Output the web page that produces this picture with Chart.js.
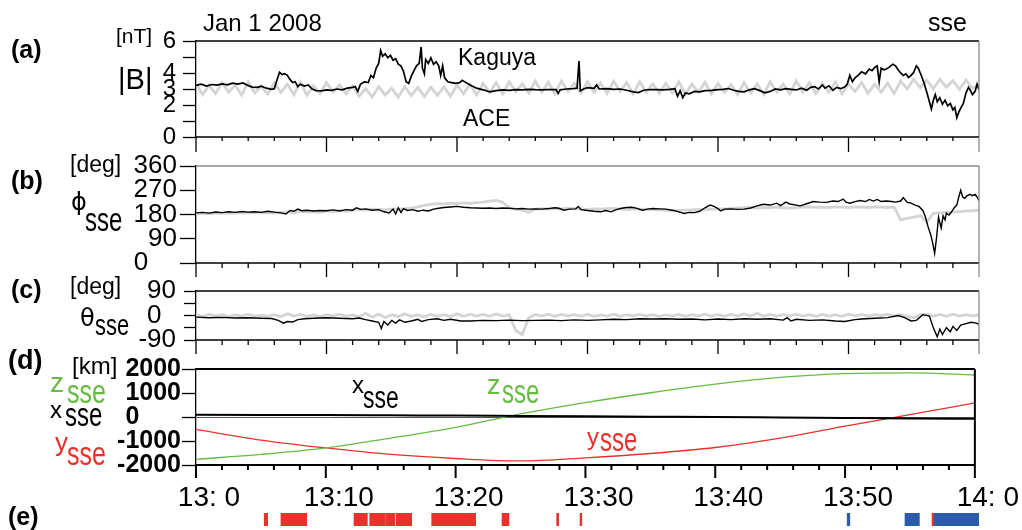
<!DOCTYPE html>
<html>
<head>
<meta charset="utf-8">
<title>Kaguya / ACE magnetic field, Jan 1 2008</title>
<script src="https://cdn.jsdelivr.net/npm/chart.js@4.4.1/dist/chart.umd.min.js"></script>
<style>
  html, body { margin: 0; padding: 0; background: #fff; }
  #wrap { position: relative; width: 1022px; height: 530px; overflow: hidden; font-family: "Liberation Sans", Arial, sans-serif; }
  #wrap canvas { position: absolute; left: 0; top: 0; }
  .lbl { position: absolute; white-space: nowrap; line-height: 1; z-index: 5; }
</style>
</head>
<body>
<div id="wrap">
  <canvas id="panelA" width="1022" height="530"></canvas>
  <canvas id="panelB" width="1022" height="530"></canvas>
  <canvas id="panelC" width="1022" height="530"></canvas>
  <canvas id="panelD" width="1022" height="530"></canvas>
  <canvas id="panelE" width="1022" height="530"></canvas>
</div>
<script>
// time is minutes after 13:00 UT
const aceStep = 0.5;

// (a) |B| [nT]
const kaguyaB = [
  [0,3.22],[0.4,3.30],[0.8,3.18],[1.2,3.28],[1.6,3.24],[2.0,3.32],[2.4,3.26],[2.8,3.36],[3.2,3.30],[3.6,3.38],
  [3.9,3.25],[4.3,3.12],[4.7,3.10],[5.0,3.18],[5.4,3.05],[5.8,2.98],[6.0,3.02],[6.2,3.55],[6.4,4.05],[6.6,3.90],
  [6.8,3.95],[7.0,3.85],[7.2,3.60],[7.4,3.40],[7.6,3.45],[7.8,3.15],[8.0,3.30],[8.3,3.18],[8.6,3.25],[8.9,3.00],
  [9.2,2.90],[9.6,2.88],[10.0,2.95],[10.4,2.92],[10.8,3.00],[11.2,2.95],[11.6,3.05],[12.0,3.10],[12.2,3.15],[12.4,2.85],
  [12.6,3.30],[12.9,3.45],[13.2,3.40],[13.4,3.85],[13.6,3.70],[13.8,4.30],[14.0,4.60],[14.15,5.40],[14.3,5.05],[14.5,5.20],
  [14.7,4.95],[14.9,5.10],[15.1,4.80],[15.3,4.90],[15.5,4.55],[15.7,4.45],[15.9,4.10],[16.1,3.45],[16.3,3.35],[16.5,3.80],
  [16.7,4.15],[16.9,4.45],[17.1,4.60],[17.25,5.62],[17.35,4.30],[17.5,3.95],[17.6,4.85],[17.8,4.60],[18.0,4.95],[18.2,4.55],
  [18.4,4.70],[18.6,4.45],[18.75,3.85],[18.9,4.45],[19.05,3.70],[19.3,3.45],[19.6,3.40],[19.9,3.35],[20.2,3.40],[20.4,3.55],
  [20.7,3.40],[21.0,3.25],[21.5,3.05],[22.0,2.95],[22.5,2.82],[23.0,2.90],[23.5,2.94],[24.0,2.92],[24.5,2.96],[25.0,2.95],
  [25.5,2.98],[26.0,2.96],[26.5,2.95],[27.0,2.97],[27.6,2.96],[27.75,2.72],[27.9,2.95],[28.4,3.00],[28.9,3.02],[29.2,3.05],
  [29.35,4.75],[29.45,2.88],[29.7,3.00],[30.0,3.08],[30.5,3.04],[30.7,3.25],[30.9,3.00],[31.5,3.02],[32.0,2.98],[32.5,3.00],
  [33.0,2.92],[33.5,2.82],[33.9,2.78],[34.3,2.92],[34.8,2.97],[35.3,2.96],[35.8,2.94],[36.3,2.98],[36.7,3.02],[36.9,2.55],
  [37.1,2.90],[37.3,2.45],[37.5,2.75],[37.8,2.70],[38.2,2.85],[38.6,2.82],[39.0,2.90],[39.5,2.92],[40.0,2.96],[40.4,2.98],
  [40.8,3.03],[41.2,2.92],[41.6,2.85],[42.0,2.82],[42.4,2.95],[42.8,3.02],[43.2,2.90],[43.6,2.76],[44.0,2.85],[44.4,3.00],
  [44.8,2.95],[45.2,3.02],[45.6,2.98],[46.0,2.94],[46.4,3.05],[46.8,2.92],[47.1,3.10],[47.4,3.15],[47.7,3.00],[48.0,3.25],
  [48.2,3.05],[48.5,3.20],[48.8,2.92],[49.1,3.10],[49.4,3.02],[49.7,3.12],[49.9,3.30],[50.1,3.85],[50.3,3.45],[50.5,3.70],
  [50.8,3.90],[51.0,4.08],[51.3,3.95],[51.6,4.25],[51.8,4.15],[52.0,4.35],[52.2,4.45],[52.35,3.45],[52.5,4.30],[52.7,4.20],
  [52.9,4.25],[53.1,4.35],[53.4,4.55],[53.6,4.45],[53.8,4.20],[54.0,4.00],[54.2,3.85],[54.4,3.95],[54.6,3.72],[54.8,3.85],
  [55.0,4.05],[55.2,4.45],[55.35,4.30],[55.6,3.80],[55.8,3.35],[56.0,2.80],[56.2,2.20],[56.35,1.75],[56.5,2.30],[56.65,2.65],
  [56.8,2.20],[57.0,2.45],[57.2,2.05],[57.4,2.30],[57.6,1.95],[57.8,2.10],[58.0,1.70],[58.15,1.85],[58.3,1.20],[58.45,1.55],
  [58.6,1.80],[58.8,2.10],[59.0,2.75],[59.2,3.10],[59.35,2.90],[59.5,2.65],[59.7,2.85],[59.85,3.30],[60.0,2.95]
];
const aceB = [
  3.35, 2.65, 3.22, 2.72, 3.40, 2.80, 3.25, 2.62, 3.45, 2.75, 3.18, 2.68,
  3.40, 2.78, 3.30, 2.65, 3.45, 2.60, 3.20, 2.72, 3.40, 2.82, 3.25, 2.70,
  3.20, 2.55, 3.02, 2.50, 3.15, 2.62, 3.05, 2.48, 3.15, 2.58, 3.10, 2.52,
  3.10, 2.60, 3.15, 2.55, 3.25, 2.70, 3.30, 2.62, 3.35, 2.78, 3.40, 2.70,
  3.45, 2.82, 3.32, 2.74, 3.50, 2.80, 3.42, 2.70, 3.50, 2.85, 3.36, 2.76,
  3.45, 2.80, 3.38, 2.72, 3.50, 2.84, 3.40, 2.70, 3.45, 2.80, 3.32, 2.74,
  3.35, 2.76, 3.45, 2.68, 3.30, 2.80, 3.42, 2.70, 3.35, 2.78, 3.28, 2.66,
  3.40, 2.74, 3.32, 2.66, 3.45, 2.80, 3.30, 2.70, 3.50, 2.82, 3.40, 2.72,
  3.35, 2.80, 3.45, 2.70, 3.30, 2.84, 3.40, 2.74, 3.30, 2.80, 3.38, 2.72,
  3.50, 3.00, 3.62, 3.08, 3.55, 3.02, 3.60, 3.12, 3.52, 2.98, 3.56, 3.06,
  3.25
];

// (b) phi_sse [deg]
const kaguyaPhi = [
  [0,186],[0.5,188],[1,185],[1.5,189],[2,187],[2.5,190],[3,188],[3.5,191],[4,189],[4.5,190],
  [5,188],[5.5,192],[6,189],[6.5,186],[6.9,182],[7.2,195],[7.5,192],[7.8,200],[8.1,194],[8.5,196],
  [9,193],[9.5,195],[10,194],[10.5,197],[11,193],[11.5,198],[12,196],[12.3,205],[12.6,199],[13,201],
  [13.5,196],[14,198],[14.4,190],[14.8,186],[15.1,200],[15.3,182],[15.5,205],[15.7,188],[15.9,202],[16.2,195],
  [16.6,198],[17,192],[17.4,196],[17.8,193],[18.2,200],[18.6,203],[19,206],[19.5,208],[20,210],[20.5,207],
  [21,205],[21.5,204],[22,203],[22.5,204],[23,202],[23.5,204],[24,203],[24.5,201],[25,202],[25.5,200],
  [26,201],[26.5,200],[27,202],[27.5,205],[27.8,203],[28.2,196],[28.6,200],[29.1,201],[29.3,210],[29.5,198],
  [30,195],[30.5,192],[31,190],[31.4,195],[31.8,190],[32.2,198],[32.6,203],[33,206],[33.4,207],[33.8,203],
  [34.2,196],[34.6,200],[35,202],[35.5,201],[36,200],[36.5,196],[37,190],[37.4,184],[37.8,188],[38.2,187],
  [38.6,192],[39,205],[39.4,215],[39.7,210],[40,202],[40.2,193],[40.5,200],[41,201],[41.5,199],[42,200],
  [42.5,204],[43,212],[43.5,218],[44,215],[44.5,222],[44.8,213],[45.2,226],[45.5,219],[46,215],[46.3,212],
  [46.8,220],[47.3,228],[47.8,226],[48.3,225],[48.8,230],[49.2,228],[49.6,237],[49.8,226],[50.1,222],[50.5,228],
  [50.9,232],[51.3,228],[51.6,236],[51.9,230],[52.2,236],[52.5,228],[52.9,230],[53.3,228],[53.6,226],[54,230],
  [54.2,243],[54.5,225],[54.8,222],[55.1,215],[55.4,210],[55.7,195],[55.9,170],[56.1,134],[56.3,105],[56.45,75],
  [56.6,36],[56.75,95],[56.9,170],[57.0,150],[57.1,130],[57.25,175],[57.4,160],[57.5,185],[57.7,178],[57.9,190],
  [58.1,205],[58.3,215],[58.45,245],[58.6,270],[58.75,245],[58.9,240],[59.1,250],[59.3,255],[59.5,250],[59.7,255],
  [59.85,245],[60,232]
];
const acePhi = [
  182, 184, 183, 185, 184, 186, 185, 187, 186, 188, 187, 186,
  185, 188, 190, 186, 192, 189, 191, 188, 193, 190, 194, 192,
  195, 198, 196, 200, 199, 197, 201, 199, 202, 204, 208, 214,
  218, 220, 219, 222, 220, 223, 221, 224, 226, 230, 232, 225,
  205, 200, 196, 188, 200, 202, 200, 203, 201, 204, 202, 200,
  199, 201, 200, 202, 203, 200, 198, 201, 199, 200, 198, 197,
  196, 194, 195, 196, 197, 199, 198, 200, 201, 200, 203, 204,
  205, 206, 204, 205, 206, 207, 205, 204, 206, 207, 208, 207,
  207, 206, 208, 207, 206, 208, 207, 206, 208, 207, 206, 207,
  160, 166, 170, 176, 152, 184, 186, 188, 189, 191, 193, 194,
  196
];

// (c) theta_sse [deg]
const kaguyaTheta = [
  [0,-6],[1,-8],[2,-7],[3,-9],[4,-8],[5,-10],[5.8,-11],[6.3,-18],[6.7,-28],[7.0,-22],
  [7.4,-24],[7.8,-15],[8.3,-12],[9,-10],[10,-8],[11,-10],[12,-12],[12.5,-9],[13,-15],[13.5,-20],
  [14,-25],[14.2,-48],[14.4,-22],[14.7,-35],[15,-18],[15.3,-28],[15.6,-16],[16,-25],[16.5,-20],[17,-14],
  [17.3,-22],[17.8,-15],[18.5,-12],[19,-18],[19.5,-14],[20.3,-20],[21,-20],[22,-18],[23,-19],[24,-17],
  [25,-19],[26,-18],[27,-17],[28,-19],[29,-16],[30,-18],[31,-16],[32,-14],[33,-15],[34,-12],
  [35,-13],[36,-12],[37,-14],[38,-13],[39,-16],[40,-13],[41,-15],[42,-12],[43,-14],[44,-12],
  [45,-17],[45.3,-8],[45.6,-20],[46,-14],[47,-18],[48,-16],[49,-20],[49.7,-22],[50.5,-15],[51,-13],
  [52,-10],[53,-8],[53.8,0],[54.3,-8],[54.8,-20],[55.2,-18],[55.7,3],[56.2,-2],[56.5,-45],[56.8,-78],
  [57,-50],[57.2,-70],[57.5,-45],[57.8,-60],[58,-40],[58.3,-55],[58.6,-35],[59,-30],[59.4,-25],[59.8,-28],
  [60,-33]
];
const aceTheta = [
  2, -3, 4, -1, 3, -4, 2, -2, 5, -3, 1, -2,
  3, -4, 6, -2, 4, -3, 2, -5, 3, -1, 4, -2,
  2, -5, 8, -6, 5, -8, 3, -4, 6, -3, 2, -5,
  4, -2, 3, -4, 6, -3, 5, -2, 4, -3, 6, -2,
  3, -55, -70, -8, 4, -2, 5, -3, 4, -1, 3, -2,
  4, -3, 2, -2, 5, -3, 3, -1, 4, -2, 3, -3,
  2, -2, 4, -3, 3, -1, 5, -2, 3, -3, 4, -2,
  6, -2, 8, -3, 4, -2, 3, -1, 5, -2, 3, -3,
  4, -2, 3, -3, 5, -1, 4, -2, 3, 0, 5, -2,
  4, -3, -8, 3, 5, -2, 4, -3, 5, -2, 3, -1,
  2
];

// (d) Kaguya position [km]
const posTime = [0, 5, 10, 15, 20, 25, 30, 35, 40, 45, 50, 55, 60];
const xSse = [90, 85, 80, 70, 60, 45, 30, 15, 0, -20, -40, -60, -75];
const ySse = [-518, -960, -1290, -1560, -1730, -1830, -1700, -1520, -1270, -880, -380, 100, 588];
const zSse = [-1764, -1560, -1290, -880, -430, 130, 600, 1010, 1370, 1650, 1810, 1840, 1750];

// (e) intervals [start, end] in minutes
const redIntervals = [
  [5.23, 5.49], [6.51, 8.48], [12.11, 13.13], [13.31, 14.0], [14.05, 14.51], [14.56, 15.23],
  [15.33, 16.53], [18.06, 21.43], [23.45, 23.98], [27.64, 27.79], [29.43, 29.56], [56.4, 56.53]
];
const blueIntervals = [[49.9, 50.1], [54.33, 55.43], [56.53, 60.0]];

const FONT = '"Liberation Sans", Arial, sans-serif';
Chart.defaults.font.family = FONT;
Chart.defaults.color = '#000';

const GRAY = '#d4d4d4';
const RED = '#e8312b';
const GREEN = '#66bb44';
const BLUE = '#2b5ca9';

const pairs = arr => arr.map(p => ({ x: p[0], y: p[1] }));
const stepped = arr => arr.map((v, i) => ({ x: i * aceStep, y: v }));
const hourLabel = v => {
  const h = 13 + Math.floor(v / 60);
  const m = v % 60;
  return h + ':' + (m < 10 ? ' ' + m : m);
};

// top/right frame and the bottom time ticks (minor every 2 min, major every 10 min)
const panelFrame = {
  id: 'panelFrame',
  defaults: { lineWidth: 1.3, topColor: '#000', rightColor: '#8a8a8a', bottomColor: '#000', major: 14, minor: 5 },
  afterDatasetsDraw(chart, args, opts) {
    const { ctx, chartArea: a } = chart;
    const xs = chart.scales.x;
    const seg = (x1, y1, x2, y2) => { ctx.beginPath(); ctx.moveTo(x1, y1); ctx.lineTo(x2, y2); ctx.stroke(); };
    ctx.save();
    ctx.lineWidth = opts.lineWidth;
    ctx.strokeStyle = opts.topColor;
    seg(a.left, a.top, a.right, a.top);
    ctx.strokeStyle = opts.rightColor;
    seg(a.right, a.top, a.right, a.bottom);
    ctx.strokeStyle = opts.bottomColor;
    seg(a.left, a.bottom, a.right, a.bottom);
    for (let m = 0; m <= 60; m += 2) {
      const px = xs.getPixelForValue(m);
      ctx.strokeStyle = m === 60 ? opts.rightColor : '#000';
      seg(px, a.bottom, px, a.bottom + (m % 10 === 0 ? opts.major : opts.minor));
    }
    ctx.restore();
  }
};

function panelOptions(top, bottom, y, frame, xExtra) {
  return {
    responsive: false,
    animation: false,
    events: [],
    layout: { padding: { top: top, right: 43, left: 0, bottom: 0 } },
    plugins: { legend: { display: false }, tooltip: { enabled: false }, panelFrame: frame || {} },
    elements: { point: { radius: 0 }, line: { tension: 0 } },
    scales: {
      x: Object.assign({
        type: 'linear', min: 0, max: 60,
        ticks: { display: false },
        grid: { display: false, drawTicks: false },
        border: { display: false },
        afterFit: s => { s.height = 530 - bottom; }
      }, xExtra || {}),
      y: Object.assign({
        type: 'linear',
        border: { display: true, color: '#000', width: 1.3 },
        afterFit: s => { s.width = 196; }
      }, y)
    }
  };
}

function yAxis(min, max, step, labelFor, size, weight, tickLen, pad) {
  return {
    min: min, max: max,
    ticks: {
      stepSize: step, autoSkip: false, padding: pad,
      font: { size: size, weight: weight || 'normal' },
      callback: labelFor
    },
    grid: { drawOnChartArea: false, tickLength: tickLen, tickColor: '#000', tickWidth: 1.3 }
  };
}

// (a)
new Chart(document.getElementById('panelA'), {
  type: 'line',
  data: {
    datasets: [
      { data: pairs(kaguyaB), borderColor: '#000', borderWidth: 1.7 },
      { data: stepped(aceB), borderColor: GRAY, borderWidth: 2.8 }
    ]
  },
  options: panelOptions(41, 137,
    yAxis(0, 6, 1, v => ([0, 2, 3, 4, 6].includes(v) ? String(v) : ''), 24, 'normal', 13, 7),
    { topColor: '#000', major: 15, minor: 4 }),
  plugins: [panelFrame]
});

// (b)
new Chart(document.getElementById('panelB'), {
  type: 'line',
  data: {
    datasets: [
      { data: pairs(kaguyaPhi), borderColor: '#000', borderWidth: 1.4 },
      { data: stepped(acePhi), borderColor: GRAY, borderWidth: 2.8 }
    ]
  },
  options: panelOptions(166, 263,
    yAxis(0, 360, 90, v => (v === 0 ? '0    ' : String(v)), 26, 'normal', 16, 3),
    { topColor: '#8a8a8a', major: 14, minor: 5 }),
  plugins: [panelFrame]
});

// (c)
new Chart(document.getElementById('panelC'), {
  type: 'line',
  data: {
    datasets: [
      { data: pairs(kaguyaTheta), borderColor: '#000', borderWidth: 1.4 },
      { data: stepped(aceTheta), borderColor: GRAY, borderWidth: 2.8 }
    ]
  },
  options: panelOptions(291, 340,
    yAxis(-90, 90, 45, v => (v === 0 ? '0  ' : (v % 90 === 0 ? String(v) : '')), 26, 'normal', 12, 8),
    { topColor: '#000', major: 14, minor: 5 }),
  plugins: [panelFrame]
});

// (d)
const yD = yAxis(-2000, 2000, 1000, v => (v === 0 ? '0      ' : String(v)), 25, 'bold', 14, 1);
yD.grid = {
  drawOnChartArea: true, tickLength: 14, tickColor: '#000', tickWidth: 1.3,
  color: c => (c.tick && c.tick.value === 0 ? '#555' : 'rgba(0,0,0,0)'), lineWidth: 1
};
new Chart(document.getElementById('panelD'), {
  type: 'line',
  data: {
    datasets: [
      { data: posTime.map((t, i) => ({ x: t, y: xSse[i] })), borderColor: '#000', borderWidth: 2, cubicInterpolationMode: 'monotone' },
      { data: posTime.map((t, i) => ({ x: t, y: zSse[i] })), borderColor: GREEN, borderWidth: 1.3, cubicInterpolationMode: 'monotone' },
      { data: posTime.map((t, i) => ({ x: t, y: ySse[i] })), borderColor: RED, borderWidth: 1.3, cubicInterpolationMode: 'monotone' }
    ]
  },
  options: panelOptions(369, 465, yD,
    { lineWidth: 2, topColor: '#000', rightColor: '#000', major: 13, minor: 5 },
    {
      ticks: {
        display: true, stepSize: 10, autoSkip: false, maxRotation: 0, padding: 16, labelOffset: 13,
        font: { size: 28 }, callback: hourLabel
      }
    }),
  plugins: [panelFrame]
});

// (e)
new Chart(document.getElementById('panelE'), {
  type: 'bar',
  data: {
    labels: ['e'],
    datasets: [
      { data: redIntervals.map(r => ({ x: r, y: 'e' })), backgroundColor: RED },
      { data: blueIntervals.map(r => ({ x: r, y: 'e' })), backgroundColor: BLUE }
    ]
  },
  options: {
    responsive: false,
    animation: false,
    events: [],
    indexAxis: 'y',
    layout: { padding: { top: 513, right: 43, left: 196, bottom: 4 } },
    plugins: { legend: { display: false }, tooltip: { enabled: false } },
    datasets: { bar: { grouped: false, barThickness: 13, borderWidth: 0, borderSkipped: false } },
    scales: {
      x: { type: 'linear', min: 0, max: 60, display: false },
      y: { type: 'category', display: false }
    }
  }
});

// annotations: [text, left, baseline, size, weight, color, vertical stretch, family]
const GREEK = '"DejaVu Sans", "Liberation Sans", sans-serif';
const notes = [
  ['(a)', 11, 58, 25, 'bold', '#000', 1],
  ['[nT]', 116, 43, 21, 'normal', '#000', 1],
  ['|B|', 118, 90, 29, 'normal', '#000', 1],
  ['Jan 1 2008', 203, 31, 24, 'normal', '#000', 1],
  ['sse', 928, 31, 25, 'normal', '#000', 1],
  ['Kaguya', 458, 65, 23, 'normal', '#000', 1],
  ['ACE', 463, 126, 23, 'normal', '#000', 1],
  ['(b)', 11, 189, 25, 'bold', '#000', 1],
  ['[deg]', 70, 172, 23, 'normal', '#000', 1],
  ['\u03d5', 71, 210, 24, 'normal', '#000', 1, GREEK],
  ['sse', 85, 231, 24, 'normal', '#000', 1.35],
  ['(c)', 11, 298, 25, 'bold', '#000', 1],
  ['[deg]', 70, 294, 23, 'normal', '#000', 1],
  ['\u03b8', 80, 326, 24, 'normal', '#000', 1, GREEK],
  ['sse', 95, 336, 22, 'normal', '#000', 1.35],
  ['(d)', 8, 370, 27, 'bold', '#000', 1],
  ['[km]', 72, 374, 24, 'normal', '#000', 1],
  ['z', 50, 393, 28, 'normal', GREEN, 1],
  ['sse', 67, 403, 25, 'normal', GREEN, 1.35],
  ['x', 50, 418, 24, 'normal', '#000', 1],
  ['sse', 65, 426, 24, 'normal', '#000', 1.35],
  ['y', 55, 451, 26, 'normal', RED, 1],
  ['sse', 67, 465, 25, 'normal', RED, 1.35],
  ['x', 352, 393, 24, 'normal', '#000', 1],
  ['sse', 363, 408, 23, 'normal', '#000', 1.35],
  ['z', 487, 395, 27, 'normal', GREEN, 1],
  ['sse', 502, 403, 24, 'normal', GREEN, 1.35],
  ['y', 587, 445, 24, 'normal', RED, 1],
  ['sse', 600, 451, 24, 'normal', RED, 1.35],
  ['(e)', 8, 525, 25, 'bold', '#000', 1]
];
const wrap = document.getElementById('wrap');
notes.forEach(([text, x, base, size, weight, color, stretch, family]) => {
  const el = document.createElement('div');
  el.className = 'lbl';
  el.textContent = text;
  const asc = 0.8465 * size;
  el.style.left = x + 'px';
  el.style.top = (base - asc) + 'px';
  el.style.fontSize = size + 'px';
  el.style.fontWeight = weight;
  el.style.color = color;
  if (family) el.style.fontFamily = family;
  if (stretch !== 1) {
    el.style.transformOrigin = '0 ' + asc + 'px';
    el.style.transform = 'scaleY(' + stretch + ')';
  }
  wrap.appendChild(el);
});
</script>
</body>
</html>
